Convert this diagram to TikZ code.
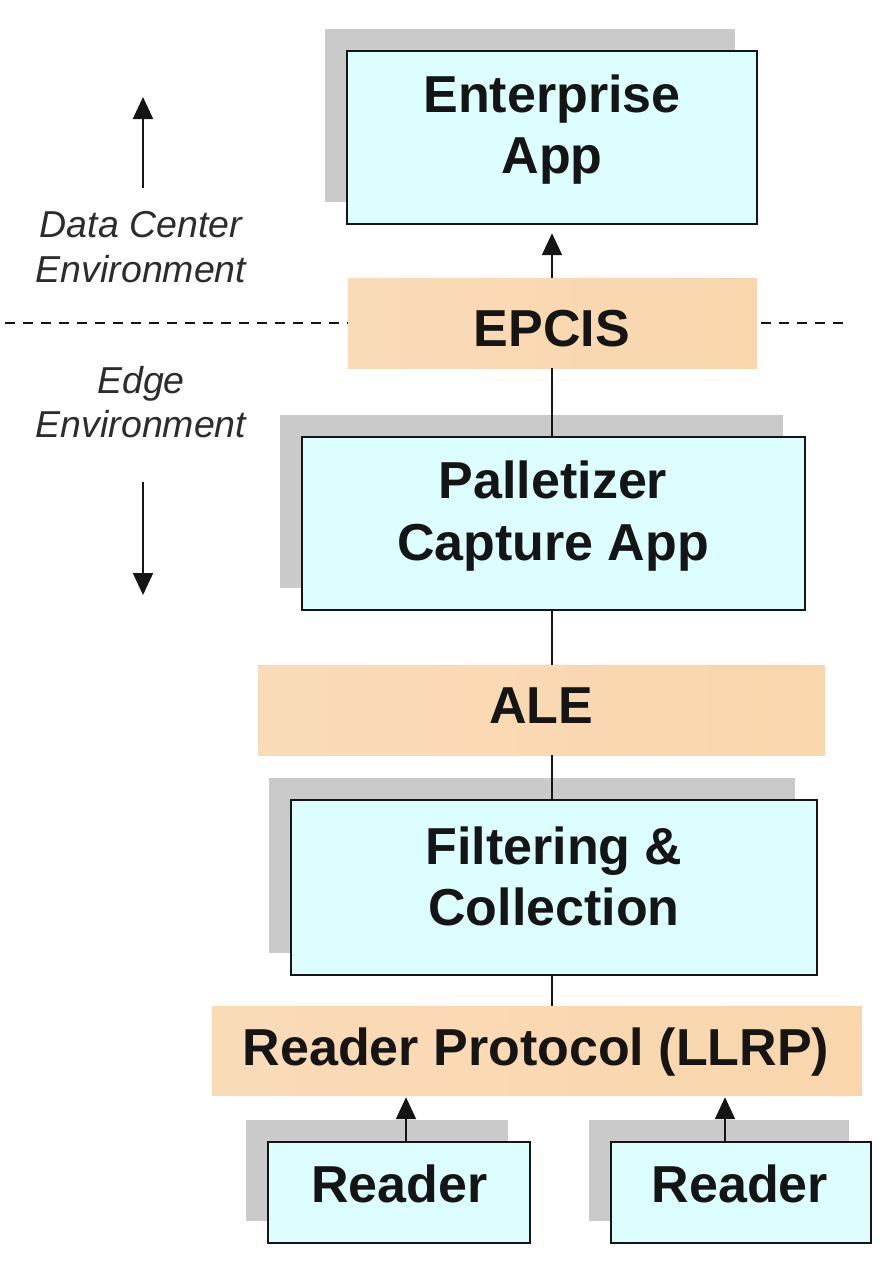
\documentclass[tikz,border=0pt]{standalone}
\usepackage{fontspec}
\setmainfont{Liberation Sans}
\usetikzlibrary{arrows.meta,shadows}
\definecolor{boxblue}{HTML}{DDFEFF}
\definecolor{orL}{HTML}{FADBB8}
\definecolor{orR}{HTML}{F9D6AC}
\definecolor{shadowgray}{HTML}{CACACA}
\definecolor{ink}{HTML}{151515}
\begin{document}
\begin{tikzpicture}[x=1pt,y=-1pt,
  bluebox/.style={draw=ink, line width=2.4pt, fill=boxblue, inner sep=0pt,
    general shadow={fill=shadowgray, shadow xshift=-22pt, shadow yshift=22pt}},
  orangebox/.style={left color=orL, right color=orR, draw=none, inner sep=0pt},
  boldtxt/.style={font=\fontsize{52}{61}\selectfont\bfseries, text=ink, anchor=base, inner sep=0pt},
  envtxt/.style={font=\fontsize{37.5}{45}\selectfont\itshape, text=ink!90, anchor=base, inner sep=0pt},
  conn/.style={draw=ink, line width=2pt},
  arr/.style={conn, -{Triangle[width=20pt,length=22pt]}}]
\fill[white] (0,0) rectangle (894,1262);
\useasboundingbox (0,0) rectangle (894,1262);

% dashed boundary
\coordinate (dl) at (5,323);
\coordinate (dr) at (850,323);
\draw[conn, dash pattern=on 10pt off 8pt] (dl) -- (dr);

% environment labels and arrows
\node[envtxt] (dc1) at (141,237) {Data Center};
\node[envtxt] (dc2) at (141,282) {Environment};
\node[envtxt] (ed1) at (141,393) {Edge};
\node[envtxt] (ed2) at (141,437) {Environment};
\coordinate (upS) at (143,188);
\coordinate (upE) at (143,97);
\coordinate (dnS) at (143,482);
\coordinate (dnE) at (143,595);
\draw[arr] (upS) -- (upE);
\draw[arr] (dnS) -- (dnE);

% boxes
\node[bluebox, minimum width=410pt, minimum height=173pt] (ent) at (552,137.5) {};
\node[orangebox, minimum width=409pt, minimum height=90pt] (epcis) at (552.5,323) {};
\node[bluebox, minimum width=503pt, minimum height=173pt] (pal) at (553.5,523.5) {};
\node[orangebox, minimum width=567pt, minimum height=90pt] (ale) at (541.5,710) {};
\node[bluebox, minimum width=526pt, minimum height=175pt] (fil) at (554,887.5) {};
\node[orangebox, minimum width=650pt, minimum height=89pt] (llrp) at (537,1050.5) {};
\node[bluebox, minimum width=262pt, minimum height=101pt] (r1) at (399,1192.5) {};
\node[bluebox, minimum width=260pt, minimum height=101pt] (r2) at (741,1192.5) {};

% labels
\node[boldtxt] (entA) at (552,112) {Enterprise};
\node[boldtxt] (entB) at (552,173) {App};
\node[boldtxt] (epcisL) at (552,346) {EPCIS};
\node[boldtxt] (palA) at (553,498) {Palletizer};
\node[boldtxt] (palB) at (553,560) {Capture App};
\node[boldtxt] (aleL) at (541,723) {ALE};
\node[boldtxt] (filA) at (554,864) {Filtering \&};
\node[boldtxt] (filB) at (554,925) {Collection};
\node[boldtxt] (llrpL) at (536,1065) {Reader Protocol (LLRP)};
\node[boldtxt] (r1L) at (399.5,1202) {Reader};
\node[boldtxt] (r2L) at (740,1202) {Reader};

% connectors
\coordinate (spine) at (552,0);
\coordinate (a1) at (406,0);
\coordinate (a2) at (725,0);
\draw[arr, shorten >=8pt] (spine |- epcis.north) -- (spine |- ent.south);
\draw[conn] (spine |- epcis.south) -- (spine |- pal.north);
\draw[conn] (spine |- pal.south) -- (spine |- ale.north);
\draw[conn] (spine |- ale.south) -- (spine |- fil.north);
\draw[conn] (spine |- fil.south) -- (spine |- llrp.north);
\draw[arr, shorten >=2pt] (a1 |- r1.north) -- (a1 |- llrp.south);
\draw[arr, shorten >=2pt] (a2 |- r2.north) -- (a2 |- llrp.south);
\end{tikzpicture}
\end{document}
